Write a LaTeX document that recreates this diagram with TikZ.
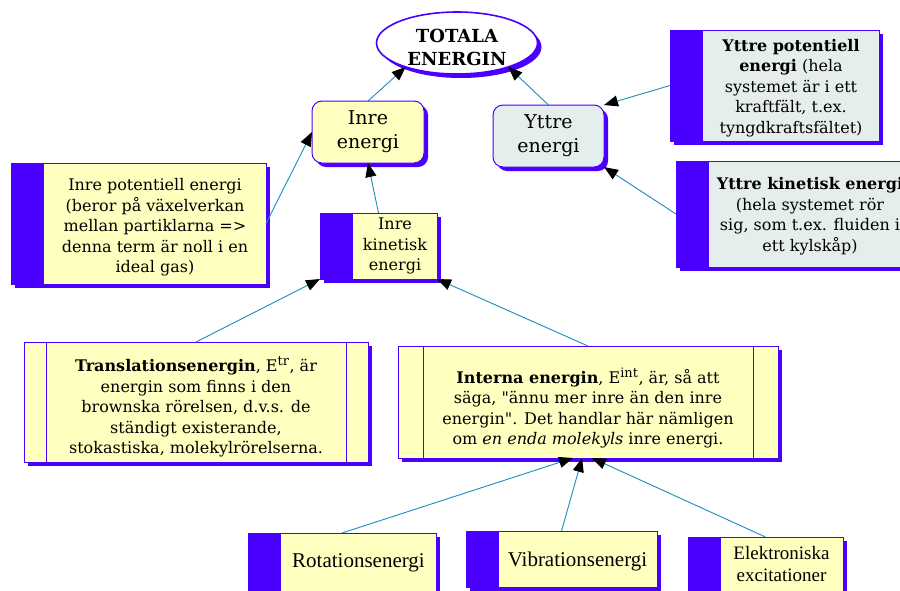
\documentclass[tikz,border=0pt]{standalone}
\usepackage{fontspec}
\setmainfont{DejaVu Serif}[Ligatures=TeXOff]
\newfontfamily\labelfont{Liberation Serif}
\usetikzlibrary{shapes.geometric, shadows, arrows.meta, positioning}

\definecolor{edgeblue}{RGB}{74,0,255}
\definecolor{noteyellow}{RGB}{255,255,192}
\definecolor{notegrey}{RGB}{230,237,237}
\definecolor{linkblue}{RGB}{26,140,190}

\newcommand\notefont{\fontsize{16}{20.5}\selectfont}
\newcommand\leaffont{\labelfont\fontsize{21}{22}\selectfont}
\newcommand\supfont{\fontsize{13}{13}\selectfont}

\tikzset{
  shade box/.style = {draw=edgeblue, line width=1pt, outer sep=0pt, inner sep=0pt,
    drop shadow={shadow xshift=4pt, shadow yshift=-4pt, fill=edgeblue, opacity=1}},
  main/.style = {shade box, ellipse, fill=white, line width=1.6pt},
  headtext/.style = {align=center, inner sep=0pt, font=\fontsize{18}{23}\selectfont\bfseries},
  topic/.style = {shade box, rounded corners=10pt, align=center,
    font=\fontsize{19}{24}\selectfont},
  barnote/.style = {shade box, fill=noteyellow,
    path picture={\fill[edgeblue] (path picture bounding box.north west)
      rectangle ([xshift=33pt]path picture bounding box.south west);}},
  procnote/.style = {shade box, fill=noteyellow,
    path picture={\draw[edgeblue, line width=1pt]
      ([xshift=#1]path picture bounding box.north west) -- ([xshift=#1]path picture bounding box.south west)
      ([xshift=-#1]path picture bounding box.north east) -- ([xshift=-#1]path picture bounding box.south east);}},
  procnote/.default = 22pt,
  notetext/.style = {align=center, inner sep=0pt, font=\notefont},
  leaftext/.style = {align=center, inner sep=0pt, font=\leaffont},
  link/.style = {draw=linkblue, line width=0.9pt,
    -{Triangle[length=14pt, width=11pt, black]}}
}

\begin{document}
\begin{tikzpicture}[x=1pt, y=-1pt]
  \clip (0,0) rectangle (900,590);

  % top of the hierarchy
  \node[main, minimum width=161, minimum height=62] (total) at (457,43) {};
  \node[headtext] (total-txt) at ([yshift=-4pt]total.center) {TOTALA\\ENERGIN};
  \node[topic, fill=noteyellow, minimum width=112, minimum height=62] (inre) at (368,132) {Inre\\energi};
  \node[topic, fill=notegrey, minimum width=111, minimum height=62] (yttre) at (548.5,136) {Yttre\\energi};

  % outer energy notes
  \node[barnote, fill=notegrey, minimum width=209, minimum height=111] (ypot) at (774.5,85.5) {};
  \node[notetext] (ypot-txt) at ([xshift=16.5pt, yshift=-2.5pt]ypot.center)
    {\textbf{Yttre potentiell}\\\textbf{energi} (hela\\systemet är i ett\\kraftfält, t.ex.\\tyngdkraftsfältet)};
  \node[barnote, fill=notegrey, minimum width=235, minimum height=106] (ykin) at (793.5,214) {};
  \node[notetext] (ykin-txt) at ([xshift=16.5pt, yshift=-2pt]ykin.center)
    {\textbf{Yttre kinetisk energi}\\(hela systemet rör\\sig, som t.ex. fluiden i\\ett kylskåp)};

  % inner energy notes
  \node[barnote, minimum width=255, minimum height=121] (ipot) at (138.5,223.5) {};
  \node[notetext] (ipot-txt) at ([xshift=16.5pt, yshift=-4pt]ipot.center)
    {Inre potentiell energi\\(beror på växelverkan\\mellan partiklarna =>\\denna term är noll i en\\ideal gas)};
  \node[barnote, minimum width=117, minimum height=66] (ikin) at (378.5,246) {};
  \node[notetext] (ikin-txt) at ([xshift=16.5pt]ikin.center) {Inre\\kinetisk\\energi};

  % kinetic parts
  \node[procnote, minimum width=344, minimum height=120] (trans) at (196,402) {};
  \node[notetext] (trans-txt) at ([yshift=-5pt]trans.center)
    {\textbf{Translationsenergin}, E\textsuperscript{\supfont tr}, är\\energin som finns i den\\brownska rörelsen, d.v.s. de\\ständigt existerande,\\stokastiska, molekylrörelserna.};
  \node[procnote=25pt, minimum width=380, minimum height=112] (inter) at (588,402) {};
  \node[notetext] (inter-txt) at ([yshift=-6pt]inter.center)
    {\textbf{Interna energin}, E\textsuperscript{\supfont int}, är, så att\\säga, "ännu mer inre än den inre\\energin". Det handlar här nämligen\\om \textit{en enda molekyls} inre energi.};

  % molecular parts
  \node[barnote, minimum width=188, minimum height=63] (rot) at (342,564.5) {};
  \node[leaftext] (rot-txt) at ([xshift=16.5pt, yshift=2pt]rot.center) {Rotationsenergi};
  \node[barnote, minimum width=191, minimum height=56] (vib) at (561.5,559) {};
  \node[leaftext] (vib-txt) at ([xshift=16pt, yshift=-2pt]vib.center) {Vibrationsenergi};
  \node[barnote, minimum width=155, minimum height=54] (elek) at (765.5,564) {};
  \node[leaftext, font=\labelfont\fontsize{19}{22}\selectfont] (elek-txt) at ([xshift=16pt]elek.center) {Elektroniska\\excitationer};

  % connectors
  \path[link] (inre.north) -- (total.205);
  \path[link] (yttre.north) -- (total.-25);
  \path[link] (ipot.east) -- (inre.west);
  \path[link] (ikin.north) -- (inre.south);
  \path[link] (ypot.west) -- (yttre.north east);
  \path[link] (ykin.west) -- (yttre.south east);
  \path[link] (trans.north) -- (ikin.south west);
  \path[link] (inter.north) -- (ikin.south east);
  \path[link] (rot.north) -- (inter.255);
  \path[link] (vib.north) -- (inter.264);
  \path[link] (elek.north) -- (inter.274);
\end{tikzpicture}
\end{document}
